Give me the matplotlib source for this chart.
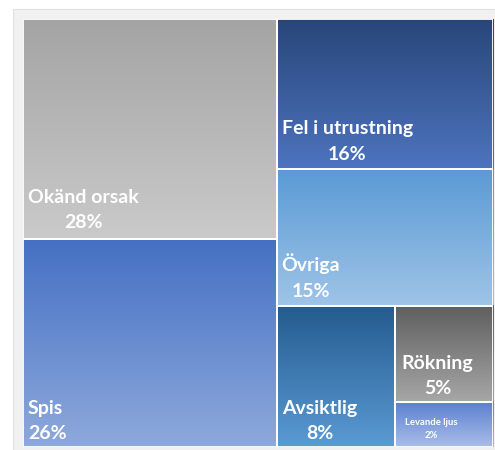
import numpy as np
import matplotlib
matplotlib.use("Agg")
import matplotlib.pyplot as plt
from matplotlib.patches import Rectangle
from matplotlib.colors import LinearSegmentedColormap

# ---- data ----
labels = ["Okänd orsak", "Spis", "Fel i utrustning", "Övriga", "Avsiktlig", "Rökning", "Levande ljus"]
values = [27.7, 26.2, 16.1, 14.7, 8.3, 4.7, 2.2]   # areas
pct_labels = ["28%", "26%", "16%", "15%", "8%", "5%", "2%"]

# gradient colours (top, bottom)
colors = [
    ("#a4a4a4", "#cacaca"),
    ("#4470c4", "#8ea9db"),
    ("#284679", "#4e74bf"),
    ("#5a9ad5", "#9fc4e7"),
    ("#245b8e", "#5b9ad4"),
    ("#5e5e5e", "#a7a7a7"),
    ("#5a7fd0", "#aabde8"),
]

# ---- layout (fractions of the plotting rectangle, y downwards) ----
total = sum(values)
rects = []
left_w = (values[0] + values[1]) / total
h0 = values[0] / (values[0] + values[1])
rects.append((0, 0, left_w, h0))
rects.append((0, h0, left_w, 1 - h0))
right_total = sum(values[2:])
rw = 1 - left_w
y = 0
for v in values[2:4]:
    h = v / right_total
    rects.append((left_w, y, rw, h))
    y += h
bottom_h = 1 - y
bottom_total = sum(values[4:])
aw = rw * values[4] / bottom_total
rects.append((left_w, y, aw, bottom_h))
small_total = values[5] + values[6]
rh = bottom_h * values[5] / small_total
rects.append((left_w + aw, y, rw - aw, rh))
rects.append((left_w + aw, y + rh, rw - aw, bottom_h - rh))

W, H = 495, 450
fig = plt.figure(figsize=(W / 100, H / 100), dpi=100)
fig.patch.set_facecolor("white")
# light frame panel
bg = fig.add_axes([0, 0, 1, 1], zorder=-5)
bg.set_xlim(0, W)
bg.set_ylim(H, 0)
bg.axis("off")
bg.add_patch(Rectangle((13, 9), W - 13, H - 9, facecolor="#f1f1f1",
                       edgecolor="#e0e0e0", lw=0.8))

ax = fig.add_axes([23 / W, 3 / H, (493 - 23) / W, (447 - 19) / H], zorder=1)
ax.axis("off")

grad = np.linspace(0, 1, 256).reshape(-1, 1)
for (x0, y0, w, h), (c1, c2) in zip(rects, colors):
    cmap = LinearSegmentedColormap.from_list("g", [c1, c2])
    ax.imshow(grad, cmap=cmap, extent=(x0, x0 + w, y0 + h, y0), origin="upper",
              aspect="auto", interpolation="bilinear", zorder=1)
    ax.add_patch(Rectangle((x0, y0), w, h, fill=False, edgecolor="white", lw=1.3, zorder=2))
ax.set_xlim(0, 1)
ax.set_ylim(1, 0)

font = ["Lato", "DejaVu Sans"]
# label settings: (fontsize, offset x px, offset y px, multialignment, linespacing)
settings = [
    (14, 5, 8, "center", 1.6),
    (14, 5, 5, "left", 1.6),
    (14, 5, 6, "center", 1.6),
    (14, 5, 6, "center", 1.6),
    (14, 6, 5, "center", 1.6),
    (14, 7, 5, "center", 1.6),
    (6.8, 10, 7, "center", 1.6),
]
for (x0, y0, w, h), lab, pct, (fs, dx, dy, ma, ls) in zip(rects, labels, pct_labels, settings):
    ax.annotate(lab + "\n" + pct, xy=(x0, y0 + h), xytext=(dx * 0.72, dy * 0.72),
                textcoords="offset points", ha="left", va="bottom",
                multialignment=ma, linespacing=ls, color="white",
                fontsize=fs, fontweight="bold", family=font, zorder=3)

fig.savefig("out.png", dpi=100, facecolor="white")
